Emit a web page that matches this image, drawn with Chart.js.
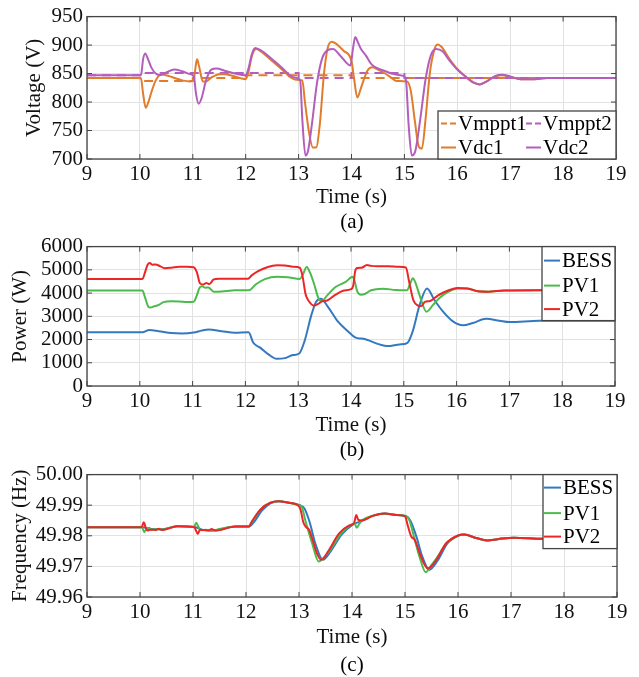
<!DOCTYPE html>
<html>
<head>
<meta charset="utf-8">
<script src="https://cdn.jsdelivr.net/npm/chart.js@4.4.1/dist/chart.umd.min.js"></script>
<style>
body { margin: 0; background: #fff; }
#page { position: relative; width: 639px; height: 677px; font-family: 'Liberation Serif', 'Times New Roman', serif; }
canvas { position: absolute; left: 0; }
.cap { position: absolute; left: 87px; width: 530px; text-align: center; font-size: 21px; line-height: 24px; color: #000; }
</style>
</head>
<body>
<div id="page">
  <canvas id="voltChart" width="639" height="210" style="top:0"></canvas>
  <div class="cap" style="top:209px">(a)</div>
  <canvas id="powerChart" width="639" height="208" style="top:230px"></canvas>
  <div class="cap" style="top:437px">(b)</div>
  <canvas id="freqChart" width="639" height="192" style="top:458px"></canvas>
  <div class="cap" style="top:652px">(c)</div>
</div>
<script>
// Data: [time (s), value]

// (a) Voltage (V)
const vmppt1 = [[9, 842], [10, 837], [11, 842], [12, 847], [14, 842], [19, 842]];
const vmppt2 = [[9, 847], [10, 851], [13, 842], [14, 851], [15, 842], [19, 842]];
const vdc1 = [
    [9, 842], [10.02, 842], [10.06, 815], [10.11, 790], [10.16, 800], [10.22, 818], [10.3, 838],
    [10.4, 849], [10.5, 847], [10.6, 844], [10.7, 841], [10.8, 838], [10.95, 836], [11.02, 840],
    [11.05, 860], [11.08, 875], [11.12, 862], [11.19, 836], [11.25, 836], [11.35, 843], [11.5, 849],
    [11.6, 849], [11.75, 846], [11.9, 842], [12.0, 840], [12.05, 852], [12.12, 882], [12.2, 893],
    [12.3, 888], [12.5, 872], [12.7, 856], [12.85, 843], [12.95, 839], [13.07, 838], [13.12, 800],
    [13.2, 745], [13.27, 720], [13.33, 720], [13.4, 760], [13.48, 850], [13.55, 895], [13.63, 906],
    [13.7, 903], [13.85, 890], [14.0, 872], [14.05, 840], [14.11, 808], [14.18, 825], [14.3, 855],
    [14.39, 861], [14.5, 857], [14.62, 851], [14.75, 843], [14.85, 837], [15.05, 836], [15.12, 820],
    [15.2, 765], [15.27, 722], [15.33, 718], [15.4, 770], [15.48, 850], [15.57, 893], [15.63, 901],
    [15.7, 897], [15.85, 876], [16.0, 858], [16.14, 846], [16.3, 834], [16.42, 831], [16.55, 836],
    [16.72, 845], [16.85, 847], [17.0, 844], [17.2, 840], [17.4, 840], [17.7, 842], [19, 842]
];
const vdc2 = [
    [9, 847], [10.02, 847], [10.06, 875], [10.1, 885], [10.15, 876], [10.22, 860], [10.3, 850],
    [10.38, 847], [10.5, 852], [10.65, 857], [10.8, 854], [10.95, 849], [11.02, 845], [11.06, 815],
    [11.11, 797], [11.17, 808], [11.25, 838], [11.35, 857], [11.45, 859], [11.6, 855], [11.8, 850],
    [12.0, 847], [12.05, 858], [12.12, 885], [12.18, 895], [12.3, 890], [12.5, 875], [12.7, 859],
    [12.85, 846], [12.97, 842], [13.03, 838], [13.07, 770], [13.13, 706], [13.18, 715], [13.25, 760],
    [13.35, 835], [13.45, 878], [13.55, 891], [13.65, 893], [13.8, 880], [13.98, 864], [14.03, 895],
    [14.07, 914], [14.12, 905], [14.18, 893], [14.27, 882], [14.38, 866], [14.5, 859], [14.62, 855],
    [14.8, 849], [14.98, 846], [15.03, 838], [15.08, 760], [15.14, 706], [15.2, 712], [15.3, 770],
    [15.4, 840], [15.5, 882], [15.6, 893], [15.72, 889], [15.85, 873], [16.0, 857], [16.14, 846],
    [16.3, 835], [16.42, 831], [16.55, 836], [16.72, 846], [16.85, 848], [17.0, 845], [17.2, 840],
    [17.4, 840], [17.7, 842], [19, 842]
];

// (b) Power (W)
const pBess = [
    [9, 2310], [10.05, 2310], [10.18, 2410], [10.36, 2360], [10.6, 2280], [10.8, 2260], [11.02, 2300],
    [11.18, 2390], [11.3, 2430], [11.55, 2360], [11.8, 2290], [12.06, 2310], [12.15, 1860], [12.28, 1650],
    [12.43, 1370], [12.59, 1170], [12.75, 1200], [12.9, 1330], [13.02, 1400], [13.12, 1930], [13.25, 3060],
    [13.34, 3630], [13.43, 3760], [13.56, 3420], [13.75, 2780], [13.94, 2360], [14.09, 2080], [14.2, 2040],
    [14.3, 1990], [14.54, 1790], [14.69, 1720], [14.92, 1790], [15.07, 1860], [15.17, 2360], [15.3, 3490],
    [15.44, 4200], [15.58, 3700], [15.74, 3210], [15.93, 2780], [16.12, 2610], [16.31, 2710], [16.56, 2890],
    [16.81, 2810], [17.0, 2750], [17.57, 2810], [19, 2810]
];
const pPv1 = [
    [9, 4110], [10.05, 4110], [10.1, 3800], [10.16, 3420], [10.2, 3380], [10.27, 3430], [10.35, 3480],
    [10.45, 3610], [10.6, 3650], [10.75, 3640], [10.9, 3620], [11.02, 3630], [11.08, 3900], [11.13, 4220],
    [11.18, 4290], [11.24, 4230], [11.3, 4240], [11.4, 4060], [11.55, 4070], [11.8, 4120], [12.07, 4120],
    [12.2, 4380], [12.37, 4600], [12.6, 4700], [12.8, 4680], [13.03, 4610], [13.09, 4800], [13.16, 5120],
    [13.22, 4900], [13.3, 4400], [13.38, 3800], [13.44, 3650], [13.55, 3900], [13.7, 4250], [13.9, 4480],
    [14.03, 4700], [14.07, 4500], [14.12, 4060], [14.19, 3930], [14.27, 3970], [14.38, 4120], [14.6, 4190],
    [14.85, 4130], [15.06, 4120], [15.12, 4400], [15.17, 4640], [15.22, 4450], [15.3, 3900], [15.43, 3200],
    [15.55, 3480], [15.67, 3780], [15.85, 4060], [16.02, 4200], [16.2, 4200], [16.4, 4080], [16.6, 4060],
    [16.9, 4110], [17.5, 4120], [19, 4120]
];
const pPv2 = [
    [9, 4610], [10.05, 4610], [10.1, 4900], [10.15, 5230], [10.19, 5290], [10.24, 5220], [10.3, 5230],
    [10.38, 5160], [10.47, 5070], [10.6, 5090], [10.75, 5130], [10.9, 5130], [11.02, 5110], [11.08, 4900],
    [11.14, 4420], [11.2, 4370], [11.26, 4430], [11.32, 4390], [11.4, 4590], [11.5, 4620], [12.05, 4620],
    [12.12, 4760], [12.25, 4950], [12.4, 5100], [12.6, 5200], [12.75, 5190], [12.9, 5130], [13.03, 5090],
    [13.08, 4750], [13.14, 3950], [13.2, 3660], [13.3, 3460], [13.37, 3520], [13.45, 3640], [13.55, 3680],
    [13.7, 3920], [13.85, 4100], [14.0, 4170], [14.04, 4300], [14.08, 4950], [14.12, 5080], [14.2, 5090],
    [14.3, 5210], [14.38, 5170], [14.5, 5150], [14.7, 5150], [14.9, 5130], [15.04, 5100], [15.1, 4500],
    [15.18, 3700], [15.27, 3460], [15.33, 3440], [15.4, 3620], [15.5, 3660], [15.65, 3900], [15.85, 4120],
    [16.02, 4220], [16.2, 4200], [16.4, 4080], [16.6, 4060], [16.9, 4110], [17.5, 4120], [19, 4120]
];

// (c) Frequency (Hz)
const fBess = [
    [9, 49.9828], [10.05, 49.9828], [10.2, 49.9822], [10.4, 49.9821], [10.7, 49.9831], [11.05, 49.9828],
    [11.2, 49.9819], [11.4, 49.9818], [11.8, 49.983], [12.05, 49.983], [12.15, 49.9845], [12.3, 49.9882],
    [12.46, 49.9906], [12.62, 49.9913], [12.81, 49.9908], [13.02, 49.99], [13.1, 49.989], [13.2, 49.9845],
    [13.31, 49.9774], [13.45, 49.9722], [13.6, 49.975], [13.8, 49.9803], [14.0, 49.9835], [14.2, 49.985],
    [14.4, 49.9865], [14.62, 49.9873], [14.85, 49.9868], [15.02, 49.9864], [15.1, 49.985], [15.22, 49.9795],
    [15.32, 49.9735], [15.46, 49.9689], [15.62, 49.972], [15.8, 49.9775], [16.0, 49.98], [16.12, 49.9804],
    [16.34, 49.9793], [16.55, 49.9785], [16.75, 49.9789], [17.05, 49.9794], [17.6, 49.979], [19, 49.979]
];
const fPv1 = [
    [9, 49.9828], [10.04, 49.9828], [10.08, 49.9812], [10.12, 49.9822], [10.17, 49.9826], [10.22, 49.982],
    [10.3, 49.9822], [10.4, 49.982], [10.7, 49.9831], [11.02, 49.9829], [11.06, 49.9843], [11.1, 49.983],
    [11.15, 49.9818], [11.25, 49.982], [11.35, 49.9816], [11.5, 49.9822], [11.8, 49.983], [12.05, 49.983],
    [12.12, 49.9849], [12.28, 49.9887], [12.46, 49.9908], [12.61, 49.9913], [12.81, 49.9908], [13.0, 49.99],
    [13.05, 49.9895], [13.12, 49.985], [13.25, 49.9774], [13.37, 49.9716], [13.45, 49.9725], [13.6, 49.9757],
    [13.78, 49.9805], [13.96, 49.9834], [14.05, 49.984], [14.09, 49.9826], [14.14, 49.984], [14.2, 49.9852],
    [14.4, 49.9866], [14.61, 49.9873], [14.83, 49.9868], [15.02, 49.9865], [15.08, 49.9852], [15.18, 49.979],
    [15.28, 49.9728], [15.39, 49.9681], [15.48, 49.97], [15.6, 49.9728], [15.78, 49.9775], [16.0, 49.9801],
    [16.12, 49.9804], [16.34, 49.9793], [16.55, 49.9785], [16.75, 49.9789], [17.05, 49.9794], [17.6, 49.979],
    [19, 49.979]
];
const fPv2 = [
    [9, 49.9828], [10.03, 49.9828], [10.07, 49.9844], [10.11, 49.9826], [10.14, 49.9817], [10.2, 49.982],
    [10.3, 49.9819], [10.35, 49.9823], [10.42, 49.9819], [10.7, 49.9831], [11.02, 49.9829], [11.05, 49.982],
    [11.09, 49.9806], [11.13, 49.982], [11.2, 49.9819], [11.3, 49.9817], [11.35, 49.9822], [11.42, 49.9817],
    [11.8, 49.983], [12.05, 49.983], [12.12, 49.9849], [12.28, 49.9887], [12.46, 49.9908], [12.61, 49.9913],
    [12.81, 49.9908], [12.98, 49.99], [13.03, 49.9885], [13.08, 49.9845], [13.13, 49.9829], [13.19, 49.982],
    [13.26, 49.9785], [13.34, 49.9742], [13.42, 49.9722], [13.56, 49.9752], [13.75, 49.9806], [13.94, 49.9833],
    [14.04, 49.9842], [14.08, 49.9868], [14.12, 49.9852], [14.18, 49.985], [14.4, 49.9866], [14.61, 49.9873],
    [14.83, 49.9868], [15.0, 49.9864], [15.05, 49.9835], [15.12, 49.9797], [15.18, 49.9788], [15.3, 49.9732],
    [15.43, 49.9693], [15.59, 49.9721], [15.77, 49.9774], [16.0, 49.9801], [16.12, 49.9804], [16.34, 49.9793],
    [16.55, 49.9785], [16.75, 49.9789], [17.05, 49.9794], [17.6, 49.979], [19, 49.979]
];

// Axis ticks: [min, max, step]
const timeTicks = [9, 19, 1];
const voltTicks = [700, 950, 50];
const powerTicks = [0, 6000, 1000];
const freqTicks = [49.96, 50.00, 0.01];

const ORANGE = '#e07c2c';
const PURPLE = '#b35ebd';
const BLUE = '#3479c0';
const GREEN = '#4dba4d';
const RED = '#ec2626';
const FRAME = '#444444';
const GRID = '#e2e2e2';

Chart.defaults.font.family = "'Liberation Serif', 'Times New Roman', serif";
Chart.defaults.font.size = 21;
Chart.defaults.color = '#111';

const toPoints = pairs => pairs.map(p => ({ x: p[0], y: p[1] }));

// MATLAB-like box, inward ticks and a legend boxed inside the axes
const frameLegend = {
    id: 'frameLegend',
    afterDatasetsDraw(chart, args, opts) {
        const { ctx, chartArea: a } = chart;
        const xs = chart.scales.x, ys = chart.scales.y;
        ctx.save();
        ctx.strokeStyle = FRAME;
        ctx.lineWidth = 1;
        ctx.setLineDash([]);
        ctx.beginPath();
        xs.ticks.forEach(t => {
            const p = xs.getPixelForValue(t.value);
            ctx.moveTo(p, a.bottom); ctx.lineTo(p, a.bottom - 5);
            ctx.moveTo(p, a.top); ctx.lineTo(p, a.top + 5);
        });
        ys.ticks.forEach(t => {
            const p = ys.getPixelForValue(t.value);
            ctx.moveTo(a.left, p); ctx.lineTo(a.left + 5, p);
            ctx.moveTo(a.right, p); ctx.lineTo(a.right - 5, p);
        });
        ctx.stroke();
        ctx.lineWidth = 1.3;
        ctx.strokeRect(a.left, a.top, a.right - a.left, a.bottom - a.top);

        // legend
        const left = a.right - opts.width;
        const top = opts.atBottom ? a.bottom - opts.height : a.top;
        ctx.fillStyle = '#fff';
        ctx.fillRect(left, top, opts.width, opts.height);
        ctx.strokeRect(left, top, opts.width, opts.height);
        ctx.font = "21px 'Liberation Serif', 'Times New Roman', serif";
        ctx.textBaseline = 'middle';
        chart.data.datasets.forEach((ds, i) => {
            const x0 = left + opts.colX[i % opts.cols];
            const y = top + opts.rowY[Math.floor(i / opts.cols)];
            ctx.strokeStyle = ds.borderColor;
            ctx.lineWidth = 2;
            ctx.setLineDash(ds.borderDash ? [6, 3] : []);
            ctx.beginPath();
            ctx.moveTo(x0, y);
            ctx.lineTo(x0 + opts.sample, y);
            ctx.stroke();
            ctx.fillStyle = '#000';
            ctx.fillText(ds.label, x0 + opts.sample + 2, y + 1);
        });
        ctx.restore();
    }
};

function lineSet(label, pairs, color, order, extra) {
    return Object.assign({
        label: label,
        data: toPoints(pairs),
        borderColor: color,
        borderWidth: 2,
        pointRadius: 0,
        fill: false,
        cubicInterpolationMode: 'monotone',
        order: order
    }, extra || {});
}

function makeChart(id, datasets, yTicks, yTitle, fmt, layout, legend) {
    return new Chart(document.getElementById(id), {
        type: 'line',
        data: { datasets: datasets },
        options: {
            responsive: false,
            animation: false,
            layout: { padding: { top: layout.top, right: layout.right, left: 0, bottom: 0 } },
            plugins: {
                legend: { display: false },
                tooltip: { enabled: false },
                frameLegend: legend
            },
            scales: {
                x: {
                    type: 'linear',
                    min: timeTicks[0],
                    max: timeTicks[1],
                    ticks: { stepSize: timeTicks[2], padding: 3, color: '#111', autoSkip: false, maxRotation: 0 },
                    grid: { color: GRID, drawTicks: false },
                    border: { display: false },
                    title: { display: true, text: 'Time (s)', padding: 0, color: '#111' },
                    afterFit: s => { s.height = layout.xHeight; }
                },
                y: {
                    type: 'linear',
                    min: yTicks[0],
                    max: yTicks[1],
                    ticks: { stepSize: yTicks[2], padding: 4, color: '#111', autoSkip: false, callback: fmt },
                    grid: { color: GRID, drawTicks: false },
                    border: { display: false },
                    title: { display: true, text: yTitle, padding: { top: layout.yTitlePad, bottom: 0 }, color: '#111' },
                    afterFit: s => { s.width = 87; }
                }
            }
        },
        plugins: [frameLegend]
    });
}

makeChart('voltChart', [
    lineSet('Vmppt1', vmppt1, ORANGE, 4, { borderDash: [9, 6], stepped: 'before', cubicInterpolationMode: 'default' }),
    lineSet('Vmppt2', vmppt2, PURPLE, 3, { borderDash: [9, 6], stepped: 'before', cubicInterpolationMode: 'default' }),
    lineSet('Vdc1', vdc1, ORANGE, 2),
    lineSet('Vdc2', vdc2, PURPLE, 1)
], voltTicks, 'Voltage (V)', v => v,
    { top: 15, right: 23, xHeight: 51, yTitlePad: 22 },
    { width: 178, height: 48, atBottom: true, cols: 2, colX: [3, 88], rowY: [12.5, 36.5], sample: 15 });

makeChart('powerChart', [
    lineSet('BESS', pBess, BLUE, 3),
    lineSet('PV1', pPv1, GREEN, 2),
    lineSet('PV2', pPv2, RED, 1)
], powerTicks, 'Power (W)', v => v,
    { top: 14, right: 24, xHeight: 52, yTitlePad: 8 },
    { width: 73, height: 74, atBottom: false, cols: 1, colX: [2], rowY: [14, 39, 62.5], sample: 16 });

makeChart('freqChart', [
    lineSet('BESS', fBess, BLUE, 3),
    lineSet('PV1', fPv1, GREEN, 2),
    lineSet('PV2', fPv2, RED, 1)
], freqTicks, 'Frequency (Hz)', v => Number(v).toFixed(2),
    { top: 15, right: 22, xHeight: 53, yTitlePad: 8 },
    { width: 74, height: 74, atBottom: false, cols: 1, colX: [1], rowY: [13, 38.5, 62], sample: 17 });
</script>
</body>
</html>
